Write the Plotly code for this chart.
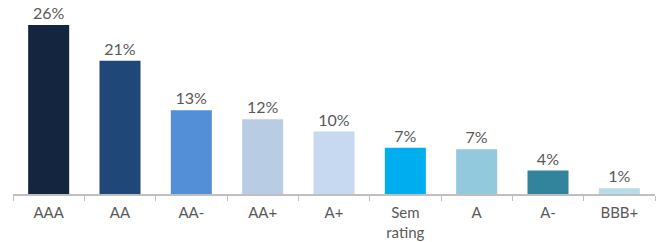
import plotly.graph_objects as go

categories = ["AAA", "AA", "AA-", "AA+", "A+", "Sem<br>rating", "A", "A-", "BBB+"]
values = [26.0, 20.5, 12.9, 11.5, 9.6, 7.1, 6.9, 3.6, 0.9]
labels = ["26%", "21%", "13%", "12%", "10%", "7%", "7%", "4%", "1%"]
colors = ["#13253f", "#1f4778", "#538fd6", "#b8cce4", "#c6d9f1",
          "#00aeef", "#92c9dc", "#31849b", "#b6dde8"]

fig = go.Figure(go.Bar(
    x=categories, y=values, text=labels, textposition="outside",
    marker=dict(color=colors, line=dict(width=0)),
    textfont=dict(size=16, color="#595959", family="Lato"),
    cliponaxis=False, width=0.575,
))
fig.update_layout(
    width=661, height=242,
    margin=dict(l=13, r=6, t=12, b=48, autoexpand=False),
    paper_bgcolor="white", plot_bgcolor="white",
    showlegend=False,
    font=dict(family="Lato", color="#595959", size=15),
    xaxis=dict(type="category", tickson="boundaries", ticks="outside",
               ticklen=5, tickcolor="#bfbfbf", tickwidth=1,
               showline=True, linecolor="#bfbfbf", linewidth=2,
               showgrid=False, automargin=False, ticklabelstandoff=4,
               tickfont=dict(size=15, color="#595959")),
    yaxis=dict(range=[0, 28], visible=False, showgrid=False, zeroline=False,
               automargin=False),
)
fig.write_html("out.html", config={"displayModeBar": False},
               post_script="document.body.style.margin='0';document.body.style.overflow='hidden';")
